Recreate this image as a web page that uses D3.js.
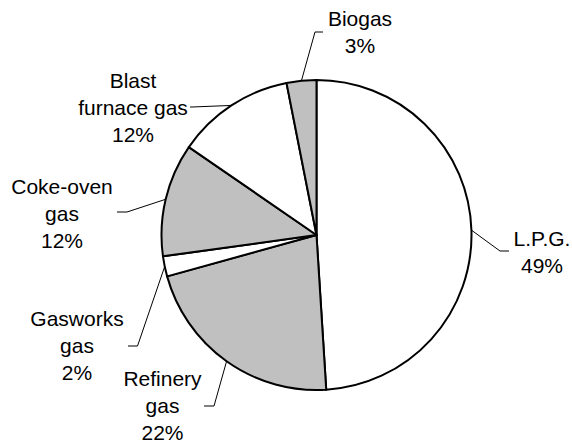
<!DOCTYPE html>
<html>
<head>
<meta charset="utf-8">
<script src="https://cdn.jsdelivr.net/npm/d3@7"></script>
<style>
  body { margin: 0; background: #fff; }
  svg { display: block; }
  text { font-family: "Liberation Sans", Arial, sans-serif; font-size: 21px; fill: #000; }
</style>
</head>
<body>
<div class="chart-holder"></div>
<script>
// slices, clockwise from 12 o'clock
const categories = ['L.P.G.', 'Refinery gas', 'Gasworks gas', 'Coke-oven gas', 'Blast furnace gas', 'Biogas'];
const values = [49.0, 21.7, 2.1, 11.8, 12.3, 3.1];
const labelLines = [['L.P.G.'], ['Refinery', 'gas'], ['Gasworks', 'gas'], ['Coke-oven', 'gas'], ['Blast', 'furnace gas'], ['Biogas']];
const fills = ['#ffffff', '#c0c0c0', '#ffffff', '#c0c0c0', '#ffffff', '#c0c0c0'];

// label placement: text centre x, first baseline y, leader knee and end
const labelLayout = [
  { x: 542, y: 246, knee: [500, 251], end: 509 },
  { x: 162.5, y: 386, knee: [214, 406], end: 204 },
  { x: 77, y: 326, knee: [137.5, 346], end: 128 },
  { x: 62, y: 194, knee: [127, 212], end: 117 },
  { x: 133, y: 88, knee: [192, 107], end: 190 },
  { x: 360, y: 26, knee: [315, 32], end: 323 }
];

const width = 572, height = 443;
const cx = 316.5, cy = 235, r = 155;
const lineH = 26.8;

const svg = d3.select('.chart-holder')
  .append('svg')
  .attr('width', width)
  .attr('height', height);

const total = d3.sum(values);
const data = values.map((v, i) => ({ name: categories[i], value: v, i: i }));

const pie = d3.pie().sort(null).value(d => d.value);
const arcs = pie(data);
const arc = d3.arc().innerRadius(0).outerRadius(r);
const edge = d3.arc().innerRadius(r).outerRadius(r);

const g = svg.append('g').attr('transform', `translate(${cx},${cy})`);

g.selectAll('path.slice')
  .data(arcs)
  .enter().append('path')
    .attr('class', 'slice')
    .attr('d', arc)
    .attr('fill', d => fills[d.data.i])
    .attr('stroke', '#000')
    .attr('stroke-width', 2)
    .attr('stroke-linejoin', 'round');

// leader lines
svg.selectAll('polyline.leader')
  .data(arcs)
  .enter().append('polyline')
    .attr('class', 'leader')
    .attr('fill', 'none')
    .attr('stroke', '#000')
    .attr('stroke-width', 1)
    .attr('points', d => {
      const c = edge.centroid(d);
      const L = labelLayout[d.data.i];
      return [[cx + c[0], cy + c[1]], L.knee, [L.end, L.knee[1]]].map(p => p.join(',')).join(' ');
    });

// labels
const pct = v => Math.round(v / total * 100) + '%';
const labels = svg.selectAll('text.label')
  .data(arcs)
  .enter().append('text')
    .attr('class', 'label')
    .attr('text-anchor', 'middle');

labels.each(function(d) {
  const L = labelLayout[d.data.i];
  const lines = labelLines[d.data.i].concat([pct(d.data.value)]);
  d3.select(this).selectAll('tspan')
    .data(lines)
    .enter().append('tspan')
      .attr('x', L.x)
      .attr('y', (t, k) => L.y + k * lineH)
      .text(t => t);
});
</script>
</body>
</html>
